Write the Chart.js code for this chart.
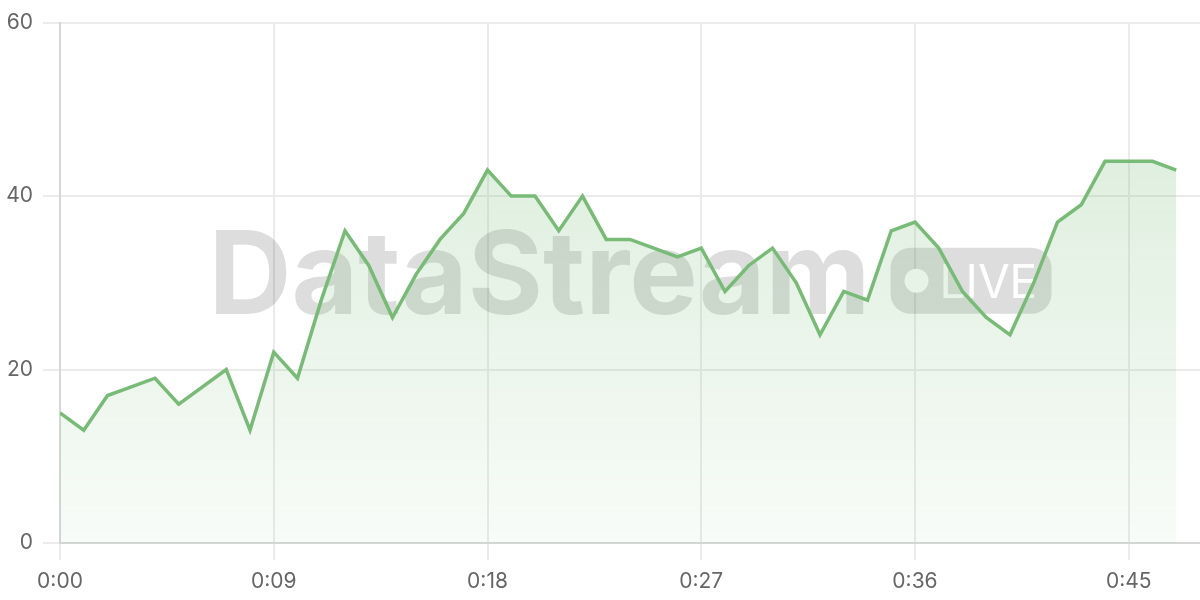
<!DOCTYPE html>
<html>
<head>
<meta charset="utf-8">
<title>DataStream LIVE</title>
<script src="https://cdn.jsdelivr.net/npm/chart.js@4.4.1/dist/chart.umd.min.js"></script>
<style>
  html, body { margin: 0; padding: 0; background: #fff; }
  #wrap { width: 1200px; height: 600px; position: relative; }
</style>
</head>
<body>
<div id="wrap"><canvas id="liveChart"></canvas></div>
<script>
// seconds since start
const seconds = [0, 1, 2, 3, 4, 5, 6, 7, 8, 9, 10, 11, 12, 13, 14, 15,
  16, 17, 18, 19, 20, 21, 22, 23, 24, 25, 26, 27, 28, 29, 30, 31,
  32, 33, 34, 35, 36, 37, 38, 39, 40, 41, 42, 43, 44, 45, 46, 47];
const values = [15, 13, 17, 18, 19, 16, 18, 20, 13, 22, 19, 28, 36, 32, 26, 31,
  35, 38, 43, 40, 40, 36, 40, 35, 35, 34, 33, 34, 29, 32, 34, 30,
  24, 29, 28, 36, 37, 34, 29, 26, 24, 30, 37, 39, 44, 44, 44, 43];
const xTickValues = [0, 9, 18, 27, 36, 45];
const xTickLabels = ['0:00', '0:09', '0:18', '0:27', '0:36', '0:45'];
const yTickValues = [0, 20, 40, 60];

const lineColor = '#77bb77';
const gridColor = '#ebebeb';
const borderColor = '#d6d6d6';
const tickFont = { family: 'Inter, "Liberation Sans", sans-serif', size: 21 };

// watermark behind the data
const watermark = {
  id: 'watermark',
  beforeDatasetsDraw(chart) {
    const { ctx, chartArea } = chart;
    const cx = (chartArea.left + chartArea.right) / 2;
    const cy = (chartArea.top + chartArea.bottom) / 2;
    ctx.save();
    ctx.font = 'bold 115px Inter, sans-serif';
    const textW = ctx.measureText('DataStream').width;
    const gap = 20, badgeW = 161, badgeH = 66;
    const total = textW + gap + badgeW;
    const x0 = cx - total / 2;
    const base = cy + 31;
    ctx.fillStyle = 'rgba(0, 0, 0, 0.135)';
    ctx.textBaseline = 'alphabetic';
    ctx.fillText('DataStream', x0, base);

    const bx = x0 + textW + gap;
    const by = base - badgeH;
    ctx.beginPath();
    ctx.roundRect(bx, by, badgeW, badgeH, 20);
    ctx.fill();

    ctx.fillStyle = '#ffffff';
    ctx.beginPath();
    ctx.arc(bx + 26, by + badgeH / 2, 12, 0, Math.PI * 2);
    ctx.fill();
    ctx.font = '46px Inter, sans-serif';
    ctx.fillText('LIVE', bx + 49, by + 50);
    ctx.restore();
  }
};

const ctx = document.getElementById('liveChart');
new Chart(ctx.getContext('2d'), {
  type: 'line',
  data: {
    datasets: [{
      data: seconds.map((s, i) => ({ x: s, y: values[i] })),
      borderColor: lineColor,
      borderWidth: 3.5,
      pointRadius: 0,
      tension: 0,
      fill: 'origin',
      backgroundColor(context) {
        const area = context.chart.chartArea;
        if (!area) return 'rgba(119,187,119,0.15)';
        const g = context.chart.ctx.createLinearGradient(0, area.top, 0, area.bottom);
        g.addColorStop(0, 'rgba(119, 187, 119, 0.30)');
        g.addColorStop(1, 'rgba(119, 187, 119, 0.05)');
        return g;
      }
    }]
  },
  options: {
    responsive: true,
    maintainAspectRatio: false,
    animation: false,
    layout: { padding: { top: 20, right: 0 } },
    plugins: {
      legend: { display: false },
      tooltip: { enabled: false }
    },
    scales: {
      x: {
        type: 'linear',
        min: 0,
        max: 48,
        afterBuildTicks(scale) {
          scale.ticks = xTickValues.map(v => ({ value: v }));
        },
        afterFit(scale) { scale.height = 57; },
        ticks: {
          color: '#666',
          font: tickFont,
          padding: 9,
          maxRotation: 0,
          callback(v) {
            const i = xTickValues.indexOf(v);
            return i >= 0 ? xTickLabels[i] : null;
          }
        },
        grid: { color: gridColor, lineWidth: 2, tickLength: 17 },
        border: { color: borderColor, width: 2 }
      },
      y: {
        min: 0,
        max: 60,
        afterBuildTicks(scale) {
          scale.ticks = yTickValues.map(v => ({ value: v }));
        },
        afterFit(scale) { scale.width = 60; },
        ticks: { color: '#666', font: tickFont, padding: 10 },
        grid: { color: gridColor, lineWidth: 2, tickLength: 17 },
        border: { color: borderColor, width: 2 }
      }
    }
  },
  plugins: [watermark]
});
</script>
</body>
</html>
